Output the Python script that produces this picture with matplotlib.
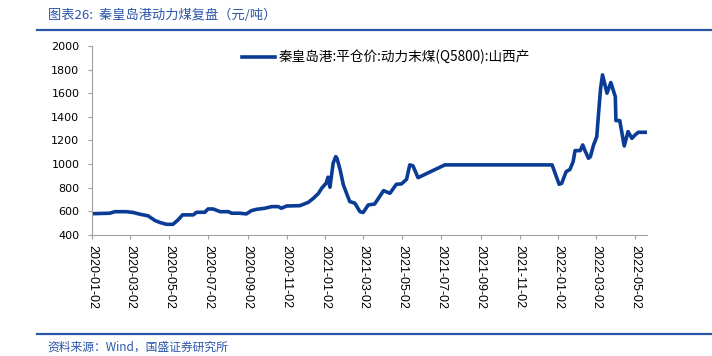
import numpy as np
import pandas as pd
import matplotlib
matplotlib.use('Agg')
import matplotlib.pyplot as plt
import matplotlib.dates as mdates
from matplotlib.lines import Line2D

# price series (yuan/ton)
dates = ['2020-01-02', '2020-01-30', '2020-02-07', '2020-02-25', '2020-03-07',
         '2020-03-17', '2020-03-30', '2020-04-10', '2020-04-18', '2020-04-28',
         '2020-05-08', '2020-05-16', '2020-05-23', '2020-06-09', '2020-06-14',
         '2020-06-27', '2020-07-02', '2020-07-10', '2020-07-21', '2020-08-03',
         '2020-08-08', '2020-08-21', '2020-08-31', '2020-09-08', '2020-09-16',
         '2020-09-29', '2020-10-10', '2020-10-20', '2020-10-25', '2020-11-02',
         '2020-11-23', '2020-12-06', '2020-12-14', '2020-12-22', '2020-12-27',
         '2021-01-03', '2021-01-06', '2021-01-09', '2021-01-14', '2021-01-18',
         '2021-01-20', '2021-01-25', '2021-01-30', '2021-02-04', '2021-02-09',
         '2021-02-17', '2021-02-25', '2021-03-02', '2021-03-10', '2021-03-20',
         '2021-03-26', '2021-04-03', '2021-04-13', '2021-04-23', '2021-05-01',
         '2021-05-09', '2021-05-14', '2021-05-19', '2021-05-27', '2021-07-08',
         '2021-12-23', '2022-01-03', '2022-01-07', '2022-01-14', '2022-01-20',
         '2022-01-25', '2022-01-28', '2022-02-05', '2022-02-09', '2022-02-12',
         '2022-02-18', '2022-02-21', '2022-02-26', '2022-03-03', '2022-03-06',
         '2022-03-09', '2022-03-12', '2022-03-19', '2022-03-25', '2022-04-01',
         '2022-04-02', '2022-04-08', '2022-04-15', '2022-04-21', '2022-04-27',
         '2022-05-02', '2022-05-07', '2022-05-21']
prices = [580, 584, 597, 597, 590,
          576, 562, 522, 505, 490,
          490, 527, 570, 570, 592,
          592, 620, 620, 597, 597,
          584, 584, 578, 606, 617,
          626, 640, 640, 626, 645,
          648, 676, 710, 752, 795,
          838, 889, 804, 1007, 1063,
          1049, 950, 824, 753, 683,
          669, 597, 590, 654, 662,
          710, 775, 753, 829, 832,
          871, 993, 985, 885, 993,
          993, 829, 837, 936, 955,
          1021, 1114, 1114, 1162, 1120,
          1049, 1063, 1162, 1232, 1444,
          1642, 1755, 1600, 1690, 1571,
          1368, 1368, 1153, 1275, 1218,
          1246, 1269, 1269]

tick_dates = ['2020-01-02', '2020-03-02', '2020-05-02', '2020-07-02', '2020-09-02',
              '2020-11-02', '2021-01-02', '2021-03-02', '2021-05-02', '2021-07-02',
              '2021-09-02', '2021-11-02', '2022-01-02', '2022-03-02', '2022-05-02']
yticks = [400, 600, 800, 1000, 1200, 1400, 1600, 1800, 2000]

series_name = '秦皇岛港:平仓价:动力末煤(Q5800):山西产'
title = '图表26:  秦皇岛港动力煤复盘（元/吨）'
source = '资料来源：Wind，国盛证券研究所'

cjk = ['Noto Sans CJK SC', 'DejaVu Sans']
blue = '#0A3C96'
head_blue = '#2A55A8'

x = pd.to_datetime(dates)
ticks = pd.to_datetime(tick_dates)

fig = plt.figure(figsize=(7.12, 3.56), dpi=100)
ax = fig.add_axes([0.129, 0.340, 0.780, 0.531])
ax.plot(x, prices, color=blue, lw=2.6, solid_joinstyle='round')

ax.set_ylim(400, 2000)
ax.set_yticks(yticks)
ax.set_xlim(x[0], x[-1])
ax.set_xticks(ticks)
ax.set_xticklabels(tick_dates, rotation=270, fontsize=9, family='Liberation Sans')
for lab in ax.get_yticklabels():
    lab.set_fontsize(8)
    lab.set_family('DejaVu Sans')

for s in ['top', 'right']:
    ax.spines[s].set_visible(False)
for s in ['left', 'bottom']:
    ax.spines[s].set_color('#a0a0a0')
    ax.spines[s].set_linewidth(0.8)
ax.tick_params(axis='y', length=3, color='#a0a0a0', pad=6)
ax.tick_params(axis='x', length=3, color='#a0a0a0', pad=4)

h = Line2D([], [], color=blue, lw=2.6)
leg = ax.legend([h], [series_name], loc='upper center', bbox_to_anchor=(0.53, 1.045),
                frameon=False, handlelength=2.4, handletextpad=0.3,
                prop={'family': cjk, 'size': 9.8})

# header / footer
fig.text(0.067, 0.957, title, color=head_blue, fontsize=9.5, family=cjk,
         style='italic', va='center', ha='left')
fig.add_artist(Line2D([0.052, 1.0], [0.916, 0.916], color=head_blue, lw=1.6))
fig.add_artist(Line2D([0.052, 1.0], [0.062, 0.062], color=head_blue, lw=1.6))
fig.text(0.067, 0.025, source, color=head_blue, fontsize=8.5, family=cjk,
         style='italic', va='center', ha='left')

fig.savefig('out.png', dpi=100)
